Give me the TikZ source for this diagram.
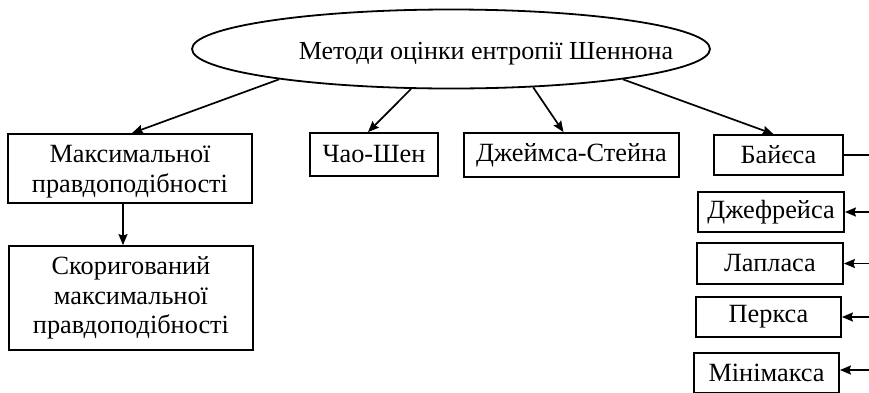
\documentclass[tikz,border=0pt]{standalone}
\usepackage{fontspec}
\setmainfont{Liberation Serif}
\usetikzlibrary{shapes.geometric,arrows.meta,calc}
\tikzset{
  box/.style={draw, line width=1.8pt, inner sep=0pt, align=center, font=\fontsize{26.3}{29.5}\selectfont},
  conn/.style={line width=1.7pt},
  arr/.style={conn, -{Stealth[length=11pt,width=9pt,inset=1.5pt]}},
}
\newcommand{\lowerby}[2]{\raisebox{-#1}[\height][\depth]{#2}}
\begin{document}
\begin{tikzpicture}[x=1pt,y=-1pt]
\clip (0,0) rectangle (869,392);
\fill[white] (0,0) rectangle (869,392);
\node[box, ellipse, minimum width=518, minimum height=79, font=\fontsize{26}{29.5}\selectfont] (ell) at (451,49) {\lowerby{5pt}{\makebox[0pt][c]{\hspace*{70pt}Методи оцінки ентропії Шеннона}}};
\node[box, minimum width=244, minimum height=69] (maxl) at (130,168.5) {\lowerby{3pt}{Максимальної}\\\lowerby{3pt}{правдоподібності}};
\node[box, minimum width=244, minimum height=104] (skor) at (131,298) {Скоригований\\максимальної\\правдоподібності};
\node[box, minimum width=128, minimum height=43] (chao) at (374,154.5) {Чао-Шен};
\node[box, minimum width=215, minimum height=44] (james) at (571.5,155) {Джеймса-Стейна};
\node[box, minimum width=129, minimum height=40] (bayes) at (778.5,155) {Байєса};
\node[box, minimum width=146, minimum height=40] (jeff) at (771,212) {Джефрейса};
\node[box, minimum width=146, minimum height=41] (lap) at (770,263.5) {Лапласа};
\node[box, minimum width=145, minimum height=40] (perks) at (768.5,317) {Перкса};
\node[box, minimum width=145, minimum height=40] (mini) at (766.5,373) {Мінімакса};
\coordinate (R) at (869,0);
\draw[arr] (ell.190.45) -- ($(maxl.north)+(2,0)$);
\draw[arr] (maxl.south -| 123,0) -- (skor.north -| 123,0);
\draw[arr] (ell.225.7) -- ($(chao.north)+(-6,0)$);
\draw[arr] (ell.335.1) -- ($(james.north)+(-8,0)$);
\draw[arr] (ell.350) -- ($(bayes.north)+(-5,0)$);
\draw[conn] (bayes.east) -- (bayes.east -| R);
\draw[arr] (jeff.east -| R) -- (jeff.east);
\draw[arr] (lap.east -| R) -- (lap.east);
\draw[arr] (perks.east -| R) -- (perks.east);
\draw[arr] ($(mini.east -| R)+(0,-3)$) -- ($(mini.east)+(0,-3)$);
\end{tikzpicture}
\end{document}
